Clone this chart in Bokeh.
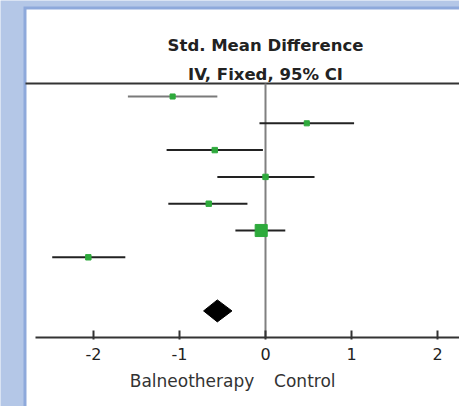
from bokeh.plotting import figure
from bokeh.models import Range1d, LinearAxis, FixedTicker, ColumnDataSource
from bokeh.core.properties import value
from bokeh.embed import file_html
from bokeh.resources import INLINE
import math

# ---- data ----
rows = [1, 2, 3, 4, 5, 6, 7]
smd = [-1.08, 0.48, -0.59, 0.00, -0.66, -0.05, -2.06]
ci_low = [-1.60, -0.07, -1.15, -0.56, -1.13, -0.35, -2.48]
ci_high = [-0.56, 1.03, -0.03, 0.57, -0.21, 0.23, -1.63]
weights = [8, 8, 9, 9, 9, 45, 9]
pooled_row = 9
pooled_smd = -0.56
pooled_low = -0.72
pooled_high = -0.39
axis_row = 10
x_ticks = [-2, -1, 0, 1, 2]
x_tick_labels = ["-2", "-1", "0", "1", "2"]
title_lines = ["Std. Mean Difference", "IV, Fixed, 95% CI"]
favours_left = "Balneotherapy"
favours_right = "Control"

W, H = 459, 406
PX_PER_X = 86.0
X0_PX = 265.0
PX_PER_ROW = 26.8
ROW0_PX = 69.2

def xd(px):
    return (px - X0_PX) / PX_PER_X

def yd(py):
    return (py - ROW0_PX) / PX_PER_ROW

p = figure(width=W, height=H, output_backend="svg", toolbar_location=None,
           x_range=Range1d(xd(0), xd(W)), y_range=Range1d(yd(H), yd(0)),
           x_axis_location=None, y_axis_location=None,
           min_border=0, min_border_left=0, min_border_right=0,
           min_border_top=0, min_border_bottom=0)
p.outline_line_color = None
p.grid.visible = False
p.background_fill_color = "#B4C7E7"
p.border_fill_color = "#B4C7E7"

# panel with darker blue edge
p.quad(left=[xd(23)], right=[xd(W + 5)], top=[yd(6)], bottom=[yd(H + 5)],
       fill_color="#8EA9DB", line_color=None)
p.quad(left=[xd(26)], right=[xd(W + 5)], top=[yd(9)], bottom=[yd(H + 5)],
       fill_color="white", line_color=None)

# header line
top_row = 0.515
p.segment(x0=[xd(25)], y0=[top_row], x1=[xd(W + 5)], y1=[top_row],
          line_color="#333333", line_width=2)

# no-effect line
p.segment(x0=[0], y0=[top_row], x1=[0], y1=[axis_row],
          line_color="#808080", line_width=2)

# CIs
ci_colors = ["#7a7a7a"] + ["#222222"] * (len(rows) - 1)
src = ColumnDataSource(dict(
    y=rows, smd=smd, lo=ci_low, hi=ci_high, c=ci_colors,
    s=[1.8 * math.sqrt(w) for w in weights]))
p.segment(x0="lo", y0="y", x1="hi", y1="y", source=src,
          line_color="c", line_width=2)
p.scatter(x="smd", y="y", size="s", marker="square", source=src,
          fill_color="#2EAA3C", line_color="#2EAA3C")

# pooled diamond
dh = 0.41
p.patch(x=[pooled_low, pooled_smd, pooled_high, pooled_smd],
        y=[pooled_row, pooled_row - dh, pooled_row, pooled_row + dh],
        fill_color="black", line_color="black")

# axis
ax = LinearAxis(fixed_location=axis_row, ticker=FixedTicker(ticks=x_ticks),
                bounds=(xd(35), xd(W + 5)))
ax.major_label_overrides = {t: l for t, l in zip(x_ticks, x_tick_labels)}
ax.axis_line_color = "#333333"
ax.axis_line_width = 2
ax.major_tick_line_color = "#333333"
ax.major_tick_line_width = 2
ax.major_tick_in = 7
ax.major_tick_out = 2
ax.minor_tick_line_color = None
ax.major_label_text_font = "DejaVu Sans"
ax.major_label_text_font_size = "16px"
ax.major_label_text_color = "#222222"
ax.major_label_standoff = 8
p.add_layout(ax, "below")

# titles
p.text(x=[0, 0], y=[-0.9, 0.17], text=title_lines,
       text_font=value("DejaVu Sans"), text_font_style="bold",
       text_font_size="16.5px", text_align="center", text_baseline="middle",
       text_color="#222222")

# favours labels
p.text(x=[-0.13], y=[11.6], text=[favours_left], text_font=value("DejaVu Sans"),
       text_font_size="17px", text_align="right", text_baseline="middle",
       text_color="#333333")
p.text(x=[0.10], y=[11.6], text=[favours_right], text_font=value("DejaVu Sans"),
       text_font_size="17px", text_align="left", text_baseline="middle",
       text_color="#333333")

open("out.html", "w").write(file_html(p, INLINE))
